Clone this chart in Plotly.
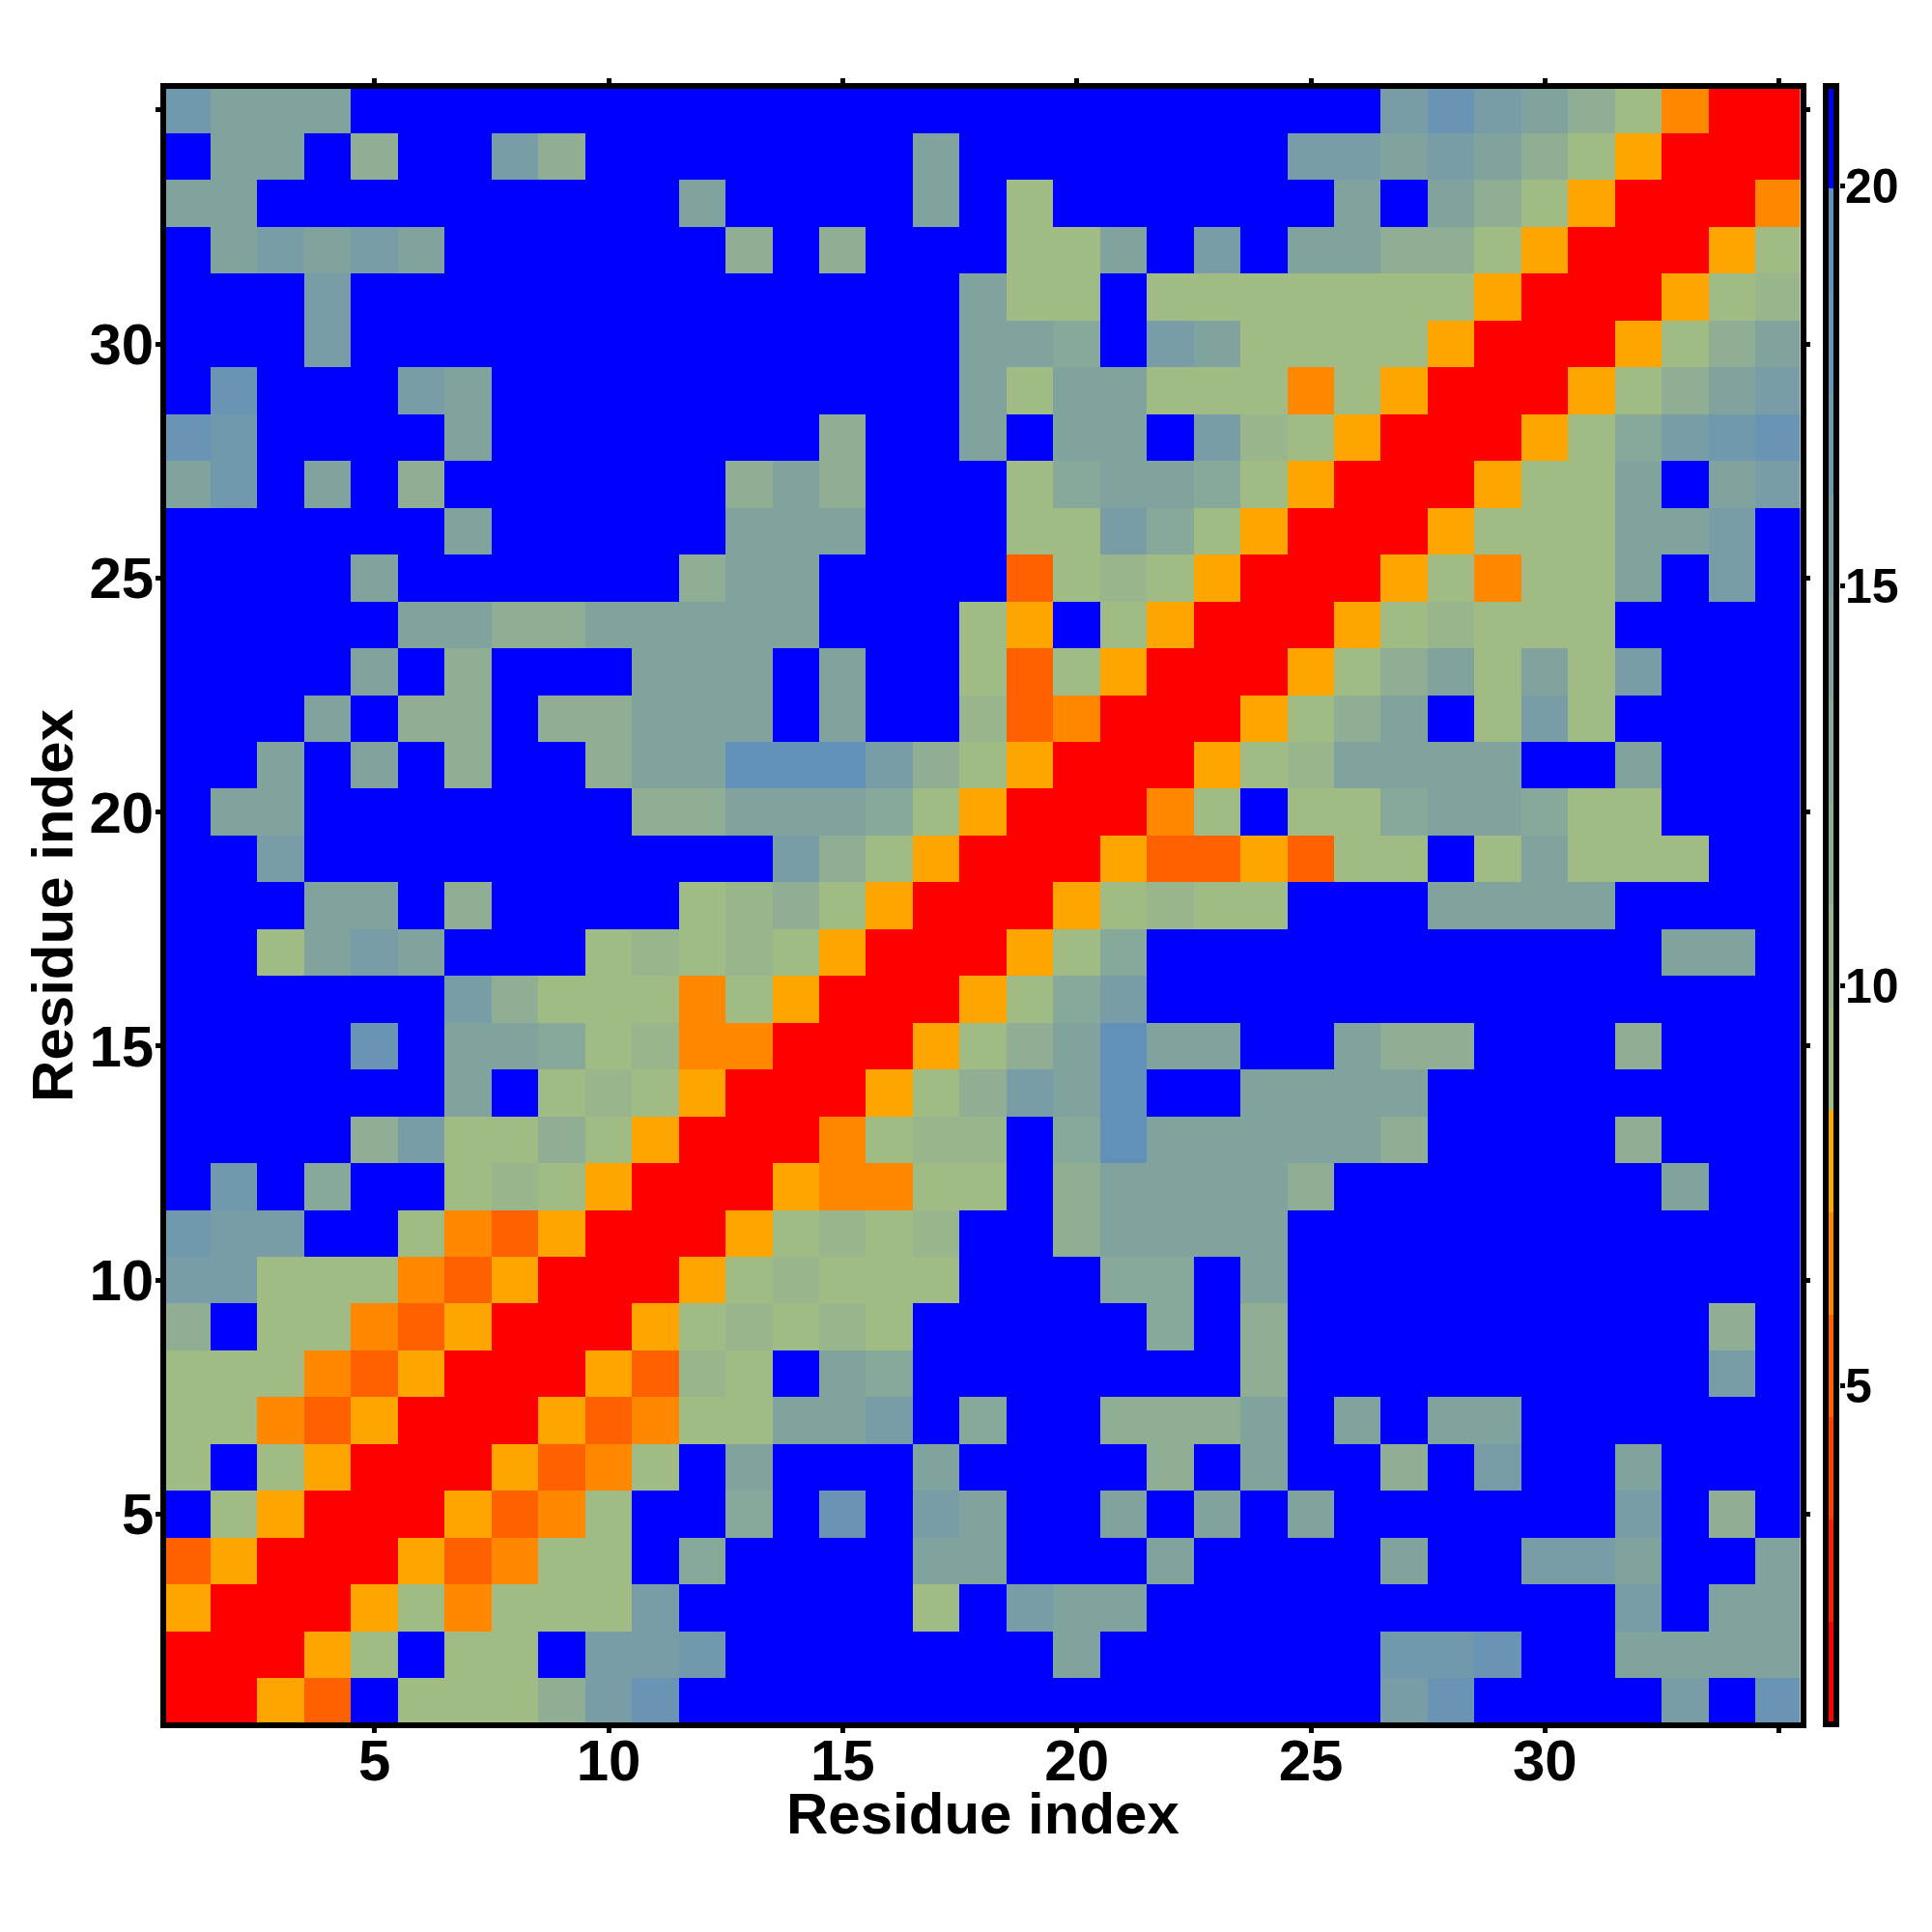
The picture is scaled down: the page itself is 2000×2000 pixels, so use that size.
import plotly.graph_objects as go

residues = list(range(1, 36))

row_35 = [17,14,14,14,21,21,21,21,21,21,21,21,21,21,21,21,21,21,21,21,21,21,21,21,21,21,15,18,15,14,12,9,6,1,1]
row_34 = [21,14,14,21,12,21,21,15,12,21,21,21,21,21,21,21,14,21,21,21,21,21,21,21,15,15,14,15,14,12,9,8,1,1,1]
row_33 = [14,14,21,21,21,21,21,21,21,21,21,14,21,21,21,21,14,21,9,21,21,21,21,21,21,14,21,14,12,9,8,1,1,1,6]
row_32 = [21,14,15,14,15,14,21,21,21,21,21,21,12,21,12,21,21,21,9,9,14,21,15,21,14,14,12,12,9,8,1,1,1,8,9]
row_31 = [21,21,21,15,21,21,21,21,21,21,21,21,21,21,21,21,21,14,9,9,21,9,9,9,9,9,9,9,8,1,1,1,8,9,10]
row_30 = [21,21,21,15,21,21,21,21,21,21,21,21,21,21,21,21,21,14,14,13,21,15,14,9,9,9,9,8,1,1,1,8,9,12,14]
row_29 = [21,18,21,21,21,15,14,21,21,21,21,21,21,21,21,21,21,14,9,14,14,9,9,9,6,9,8,1,1,1,8,9,12,14,15]
row_28 = [18,17,21,21,21,21,14,21,21,21,21,21,21,21,12,21,21,14,21,14,14,21,15,10,9,8,1,1,1,8,9,13,15,17,18]
row_27 = [14,17,21,14,21,12,21,21,21,21,21,21,12,14,12,21,21,21,9,13,14,14,13,9,8,1,1,1,8,9,9,14,21,14,15]
row_26 = [21,21,21,21,21,21,14,21,21,21,21,21,14,14,14,21,21,21,9,9,15,13,9,8,1,1,1,8,9,9,9,14,14,15,21]
row_25 = [21,21,21,21,14,21,21,21,21,21,21,12,14,14,21,21,21,21,5,9,10,9,8,1,1,1,8,9,6,9,9,14,21,15,21]
row_24 = [21,21,21,21,21,14,14,12,12,14,14,14,14,14,21,21,21,9,8,21,9,8,1,1,1,8,9,10,9,9,9,21,21,21,21]
row_23 = [21,21,21,21,14,21,12,21,21,21,14,14,14,21,14,21,21,9,5,9,8,1,1,1,8,9,12,14,9,14,9,15,21,21,21]
row_22 = [21,21,21,14,21,12,12,21,12,12,14,14,14,21,14,21,21,10,5,6,1,1,1,8,9,12,14,21,9,15,9,21,21,21,21]
row_21 = [21,21,14,21,14,21,12,21,21,12,14,14,19,19,19,15,12,9,8,1,1,1,8,9,10,14,14,14,14,21,21,14,21,21,21]
row_20 = [21,14,14,21,21,21,21,21,21,21,12,12,14,14,14,13,9,8,1,1,1,6,9,21,9,9,13,14,14,13,9,9,21,21,21]
row_19 = [21,21,15,21,21,21,21,21,21,21,21,21,21,15,12,9,8,1,1,1,8,5,5,8,5,9,9,21,9,14,9,9,9,21,21]
row_18 = [21,21,21,14,14,21,12,21,21,21,21,9,10,12,9,8,1,1,1,8,9,10,9,9,21,21,21,14,14,14,14,21,21,21,21]
row_17 = [21,21,9,14,15,14,21,21,21,9,10,9,10,9,8,1,1,1,8,9,13,21,21,21,21,21,21,21,21,21,21,21,14,14,21]
row_16 = [21,21,21,21,21,21,15,12,9,9,9,6,9,8,1,1,1,8,9,13,15,21,21,21,21,21,21,21,21,21,21,21,21,21,21]
row_15 = [21,21,21,21,18,21,14,14,13,9,10,6,6,1,1,1,8,9,12,14,19,14,14,21,21,14,12,12,21,21,21,12,21,21,21]
row_14 = [21,21,21,21,21,21,14,21,9,10,9,8,1,1,1,8,9,12,15,14,19,21,21,14,14,14,14,21,21,21,21,21,21,21,21]
row_13 = [21,21,21,21,12,15,9,9,12,9,8,1,1,1,6,9,10,10,21,13,19,14,14,14,14,14,12,21,21,21,21,12,21,21,21]
row_12 = [21,17,21,13,21,21,9,10,9,8,1,1,1,8,6,6,9,9,21,12,14,14,14,14,12,21,21,21,21,21,21,21,14,21,21]
row_11 = [17,15,15,21,21,9,6,5,8,1,1,1,8,9,10,9,10,21,21,12,14,14,14,14,21,21,21,21,21,21,21,21,21,21,21]
row_10 = [15,15,9,9,9,6,5,8,1,1,1,8,9,10,9,9,9,21,21,21,13,13,21,14,21,21,21,21,21,21,21,21,21,21,21]
row_09 = [12,21,9,9,6,5,8,1,1,1,8,9,10,9,10,9,21,21,21,21,21,13,21,12,21,21,21,21,21,21,21,21,21,12,21]
row_08 = [9,9,9,6,5,8,1,1,1,8,5,10,9,21,14,13,21,21,21,21,21,21,21,12,21,21,21,21,21,21,21,21,21,15,21]
row_07 = [9,9,6,5,8,1,1,1,8,5,6,9,9,14,14,15,21,13,21,21,12,12,12,14,21,14,21,14,14,21,21,21,21,21,21]
row_06 = [9,21,9,8,1,1,1,8,5,6,9,21,14,21,21,21,14,21,21,21,21,12,21,14,21,21,12,21,15,21,21,14,21,21,21]
row_05 = [21,9,8,1,1,1,8,5,6,9,21,21,13,21,18,21,15,14,21,21,14,21,14,21,14,21,21,21,21,21,21,15,21,12,21]
row_04 = [5,8,1,1,1,8,5,6,9,9,21,13,21,21,21,21,14,14,21,21,21,14,21,21,21,21,14,21,21,15,15,14,21,21,14]
row_03 = [8,1,1,1,8,9,6,9,9,9,15,21,21,21,21,21,9,21,15,14,14,21,21,21,21,21,21,21,21,21,21,15,21,14,14]
row_02 = [1,1,1,8,9,21,9,9,21,15,15,17,21,21,21,21,21,21,21,14,21,21,21,21,21,21,17,17,18,21,21,14,14,14,14]
row_01 = [1,1,8,5,21,9,9,9,12,15,18,21,21,21,21,21,21,21,21,21,21,21,21,21,21,21,15,18,21,21,21,21,15,21,18]

distance = [row_01, row_02, row_03, row_04, row_05, row_06, row_07, row_08, row_09, row_10,
            row_11, row_12, row_13, row_14, row_15, row_16, row_17, row_18, row_19, row_20,
            row_21, row_22, row_23, row_24, row_25, row_26, row_27, row_28, row_29, row_30,
            row_31, row_32, row_33, row_34, row_35]

palette = ["#ff0000", "#ff2000", "#ff4000", "#ff6000", "#ff8800", "#ffa500",
           "#a1bb85", "#98b58c", "#8fae93", "#87a99a", "#81a39e", "#799da6",
           "#7199ad", "#6994b3", "#6190b9", "#0000ff"]
Z_MIN, Z_MAX = 0.76, 21.24

stepped = []
for i, colour in enumerate(palette):
    stepped.append([i / len(palette), colour])
    stepped.append([(i + 1) / len(palette), colour])

tick_vals = [5, 10, 15, 20, 25, 30, 35]
tick_text = ["5", "10", "15", "20", "25", "30", ""]
bar_vals = [5, 10, 15, 20]
bar_text = ["5", "10", "15", "20"]

FONT = "Liberation Sans"
tick_font = dict(family=FONT, size=60, color="black", weight=700)
title_font = dict(family=FONT, size=60, color="black", weight=700)

PLOT_W = 1836.0   # page width right of the left margin
fig = go.Figure()
fig.add_trace(go.Heatmap(
    x=residues, y=residues, z=distance,
    zmin=Z_MIN, zmax=Z_MAX, colorscale=stepped, xgap=0, ygap=0,
    colorbar=dict(
        thickness=11, thicknessmode="pixels",
        len=1696, lenmode="pixels",
        x=(1890 - 172) / PLOT_W, xanchor="left", xpad=0,
        y=(1783.5 - 1786) / 1691.5, yanchor="bottom", ypad=0,
        outlinecolor="black", outlinewidth=6, borderwidth=0,
        ticks="", showticklabels=False,
    ),
))
# The colour bar's ticks and labels are an overlaid axis on the same value scale.
fig.add_trace(go.Scatter(x=[None], y=[None], yaxis="y2", mode="markers",
                         showlegend=False, hoverinfo="skip"))

axis_common = dict(
    range=[0.55, 35.45], showgrid=False, zeroline=False,
    showline=True, linecolor="black", linewidth=5.5, mirror="ticks",
    ticks="outside", ticklen=5, tickwidth=5, tickcolor="black",
    tickmode="array", tickvals=tick_vals, ticktext=tick_text,
    tickfont=tick_font, tickangle=0,
)
fig.update_xaxes(**axis_common, domain=[0, 1691.5 / PLOT_W], ticklabelstandoff=-23)
fig.update_yaxes(**axis_common, ticklabelstandoff=-10,
                 title=dict(text="Residue index", font=title_font, standoff=0))

fig.update_layout(
    width=2000, height=2000, autosize=False,
    margin=dict(l=164, r=0, t=84, b=224.5, pad=0),
    paper_bgcolor="white", plot_bgcolor="white", showlegend=False,
    yaxis2=dict(
        overlaying="y", side="right", anchor="free",
        position=(1904 - 172) / PLOT_W,
        range=[0.79, 21.216], showgrid=False, zeroline=False, showline=False,
        ticks="outside", ticklen=5, tickwidth=5, tickcolor="black",
        ticklabelstandoff=-10,
        tickmode="array", tickvals=bar_vals, ticktext=bar_text,
        tickfont=dict(family=FONT, size=50, color="black", weight=700),
    ),
    annotations=[dict(
        text="Residue index", showarrow=False, font=title_font,
        xref="x domain", x=0.5, xanchor="center",
        yref="y domain", y=(1783.5 - 1878) / 1691.5, yanchor="middle",
    )],
)
fig.write_html("out.html")
